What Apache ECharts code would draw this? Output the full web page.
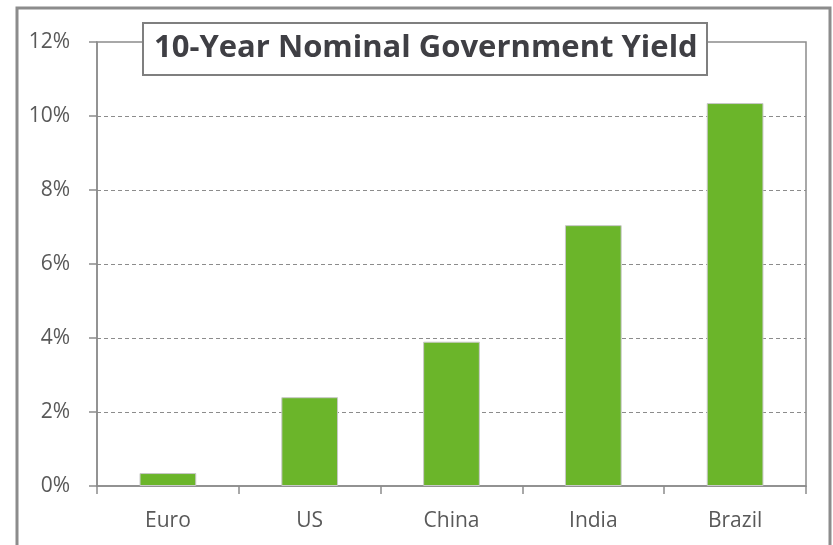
<!DOCTYPE html>
<html>
<head>
<meta charset="utf-8">
<script src="https://cdn.jsdelivr.net/npm/echarts@6/dist/echarts.min.js"></script>
<style>
  html, body { margin: 0; padding: 0; background: #fff; }
  #chart { width: 833px; height: 545px; }
</style>
</head>
<body>
<div id="chart"></div>
<script>
// data
const countries = ['Euro', 'US', 'China', 'India', 'Brazil']
const yields = [0.35, 2.4, 3.9, 7.05, 10.35]
const chartTitle = '10-Year Nominal Government Yield'

const chart = echarts.init(document.getElementById('chart'))

const option = {
    animation: false,
    textStyle: { fontFamily: 'Open Sans' },
    title: {
        text: chartTitle,
        left: 143,
        top: 23,
        padding: [7, 10, 8, 11],
        backgroundColor: '#fff',
        borderColor: '#7f7f7f',
        borderWidth: 2,
        textStyle: {
            fontFamily: 'Open Sans',
            fontWeight: 'bold',
            fontSize: 31,
            lineHeight: 37,
            color: '#3f3f44'
        },
        z: 10
    },
    graphic: [{
        type: 'rect',
        shape: { x: 17, y: 8, width: 813, height: 560 },
        style: { fill: 'none', stroke: '#8c8c8c', lineWidth: 3 },
        silent: true
    }],
    grid: {
        left: 97,
        right: 27,
        top: 42,
        bottom: 59,
        show: true,
        borderColor: '#8c8c8c',
        borderWidth: 1.5,
        containLabel: false
    },
    xAxis: {
        type: 'category',
        data: countries,
        axisLine: { lineStyle: { color: '#8c8c8c', width: 1.5 } },
        axisTick: { show: true, length: 8, lineStyle: { color: '#8c8c8c', width: 1.5 } },
        axisLabel: { color: '#595959', fontSize: 21, margin: 25 }
    },
    yAxis: {
        type: 'value',
        min: 0,
        max: 12,
        interval: 2,
        axisLine: { show: true, lineStyle: { color: '#8c8c8c', width: 1.5 } },
        axisTick: { show: true, length: 8, lineStyle: { color: '#8c8c8c', width: 1.5 } },
        axisLabel: { color: '#595959', fontSize: 21, margin: 27, formatter: '{value}%' },
        splitLine: {
            show: true,
            showMinLine: false,
            showMaxLine: false,
            lineStyle: { color: '#8c8c8c', type: [4, 3], width: 1 }
        }
    },
    series: [{
        type: 'bar',
        data: yields,
        barWidth: '40%',
        itemStyle: {
            color: '#6bb52a',
            borderColor: '#c8c8c8',
            borderWidth: 1
        }
    }]
}

chart.setOption(option)
</script>
</body>
</html>
